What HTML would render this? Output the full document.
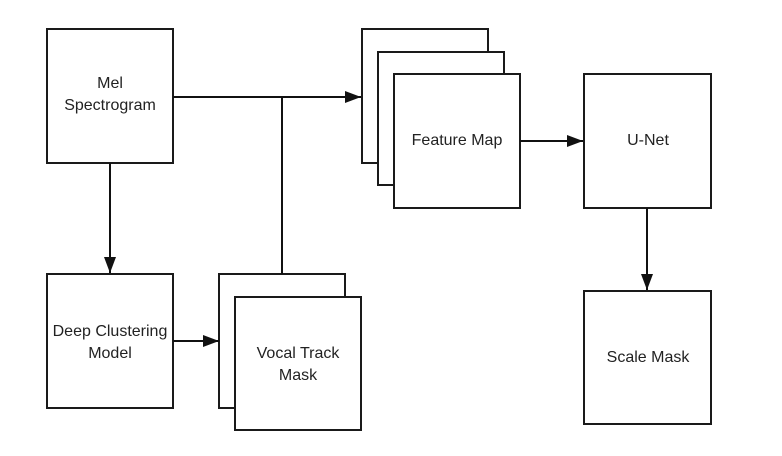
<!DOCTYPE html>
<html><head><meta charset="utf-8"><style>
html,body{margin:0;padding:0;background:#fff;}
svg{display:block;}
text{font-family:"Liberation Sans",sans-serif;font-size:16px;fill:#222;text-anchor:middle;}
</style></head><body>
<svg width="782" height="456" viewBox="0 0 782 456" xmlns="http://www.w3.org/2000/svg">
<defs>
<marker id="a" markerWidth="16" markerHeight="12" refX="16" refY="6" orient="auto" markerUnits="userSpaceOnUse">
<path d="M0,0 L16,6 L0,12 Z" fill="#111"/>
</marker>
</defs>
<g fill="#fff" stroke="#1a1a1a" stroke-width="2">
<rect x="47" y="29" width="126" height="134"/>
<rect x="47" y="274" width="126" height="134"/>
<rect x="219" y="274" width="126" height="134"/>
<rect x="235" y="297" width="126" height="133"/>
<rect x="362" y="29" width="126" height="134"/>
<rect x="378" y="52" width="126" height="133"/>
<rect x="394" y="74" width="126" height="134"/>
<rect x="584" y="74" width="127" height="134"/>
<rect x="584" y="291" width="127" height="133"/>
</g>
<g stroke="#111" stroke-width="2" fill="none">
<line x1="173" y1="97" x2="361" y2="97" marker-end="url(#a)"/>
<line x1="282" y1="97" x2="282" y2="274"/>
<line x1="110" y1="163" x2="110" y2="273" marker-end="url(#a)"/>
<line x1="173" y1="341" x2="219" y2="341" marker-end="url(#a)"/>
<line x1="520" y1="141" x2="583" y2="141" marker-end="url(#a)"/>
<line x1="647" y1="208" x2="647" y2="290" marker-end="url(#a)"/>
</g>
<text x="110" y="88">Mel</text>
<text x="110" y="110">Spectrogram</text>
<text x="110" y="336">Deep Clustering</text>
<text x="110" y="358">Model</text>
<text x="298" y="358">Vocal Track</text>
<text x="298" y="380">Mask</text>
<text x="457" y="145">Feature Map</text>
<text x="648" y="145">U-Net</text>
<text x="648" y="362">Scale Mask</text>
</svg>
</body></html>
